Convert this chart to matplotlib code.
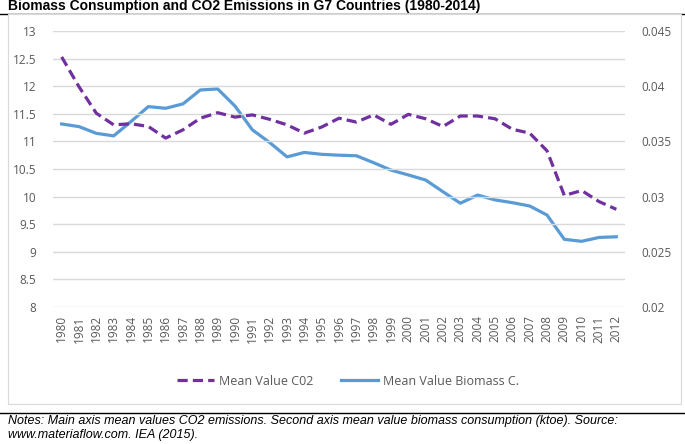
import matplotlib
matplotlib.use("Agg")
import matplotlib.pyplot as plt
from matplotlib.patches import Rectangle
from matplotlib.lines import Line2D

years = [str(y) for y in range(1980, 2013)]
co2 = [12.53, 11.99, 11.51, 11.30, 11.32, 11.27, 11.06, 11.21, 11.42, 11.52,
       11.44, 11.48, 11.40, 11.30, 11.15, 11.26, 11.42, 11.35, 11.48, 11.31,
       11.49, 11.41, 11.27, 11.46, 11.46, 11.41, 11.22, 11.15, 10.83, 10.02,
       10.11, 9.91, 9.77]
biomass = [0.03658, 0.03634, 0.03573, 0.03550, 0.03680, 0.03815, 0.03800, 0.03840,
           0.03966, 0.03975, 0.03820, 0.03605, 0.03490, 0.03360, 0.03400, 0.03383,
           0.03375, 0.03370, 0.03307, 0.03240, 0.03196, 0.03150, 0.03044, 0.02940,
           0.03014, 0.02970, 0.02945, 0.02915, 0.02833, 0.02613, 0.02595, 0.02630,
           0.02636]
left_ticks = [8, 8.5, 9, 9.5, 10, 10.5, 11, 11.5, 12, 12.5, 13]
right_ticks = [0.02, 0.025, 0.03, 0.035, 0.04, 0.045]

W, H = 685, 444
fig = plt.figure(figsize=(W / 100, H / 100), dpi=100)

# frame lines and chart box (behind axes)
fig.add_artist(Line2D([0, 1], [1 - 14 / H, 1 - 14 / H], color="black", lw=1.0, zorder=-3))
fig.add_artist(Line2D([0, 1], [1 - 413 / H, 1 - 413 / H], color="black", lw=1.0, zorder=-3))
fig.add_artist(Rectangle((8 / W, 1 - 404 / H), (681 - 8) / W, (404 - 14) / H,
                         facecolor="white", edgecolor="#d9d9d9", lw=0.8, zorder=-2))

fig.text(8 / W, 1 - 6 / H, "Biomass Consumption and CO2 Emissions in G7 Countries (1980-2014)",
         fontsize=10, fontweight="bold", family="Liberation Sans", va="center", ha="left")
fig.text(8 / W, 1 - 421 / H,
         "Notes: Main axis mean values CO2 emissions. Second axis mean value biomass consumption (ktoe). Source:",
         fontsize=9, style="italic", family="Liberation Sans", va="center", ha="left")
fig.text(8 / W, 1 - 435 / H, "www.materiaflow.com. IEA (2015).",
         fontsize=9, style="italic", family="Liberation Sans", va="center", ha="left")

ax = fig.add_axes([53 / W, 1 - 307 / H, 572 / W, 276 / H])
ax.set_facecolor("none")
x = list(range(len(years)))
ax.set_xlim(-0.5, len(years) - 0.5)
ax.set_ylim(8, 13)
ax.set_yticks(left_ticks)
ax.set_yticklabels([f"{t:g}" for t in left_ticks])
ax.set_xticks(x)
ax.set_xticklabels(years, rotation=90)
for s in ax.spines.values():
    s.set_visible(False)
ax.grid(axis="y", color="#d9d9d9", lw=1.0)
ax.set_axisbelow(True)
ax.tick_params(length=0, labelcolor="#595959", labelsize=8.5)
ax.tick_params(axis="y", pad=12)
ax.tick_params(axis="x", pad=6)
for lab in ax.get_xticklabels() + ax.get_yticklabels():
    lab.set_family("Open Sans")

ax2 = ax.twinx()
ax2.set_facecolor("none")
ax2.set_ylim(0.02, 0.045)
ax2.set_yticks(right_ticks)
ax2.set_yticklabels([f"{t:g}" for t in right_ticks])
for s in ax2.spines.values():
    s.set_visible(False)
ax2.tick_params(length=0, labelcolor="#595959", labelsize=8.5, pad=12)
for lab in ax2.get_yticklabels():
    lab.set_family("Open Sans")

l2, = ax2.plot(x, biomass, color="#5b9bd5", lw=2.3, solid_joinstyle="round",
               label="Mean Value Biomass C.")
l1, = ax.plot(x, co2, color="#7030a0", lw=2.3, dashes=(3.2, 1.6), dash_capstyle="butt",
              label="Mean Value C02")
ax2.set_zorder(1)
ax.set_zorder(2)

leg = fig.legend([l1, l2], ["Mean Value C02", "Mean Value Biomass C."],
                 loc="center", bbox_to_anchor=(348 / W, 1 - 381 / H), ncol=2,
                 frameon=False, handlelength=3.0, columnspacing=2.2, handletextpad=0.4,
                 prop={"family": "Open Sans", "size": 9})
for t in leg.get_texts():
    t.set_color("#595959")

fig.savefig("out.png", dpi=100)
